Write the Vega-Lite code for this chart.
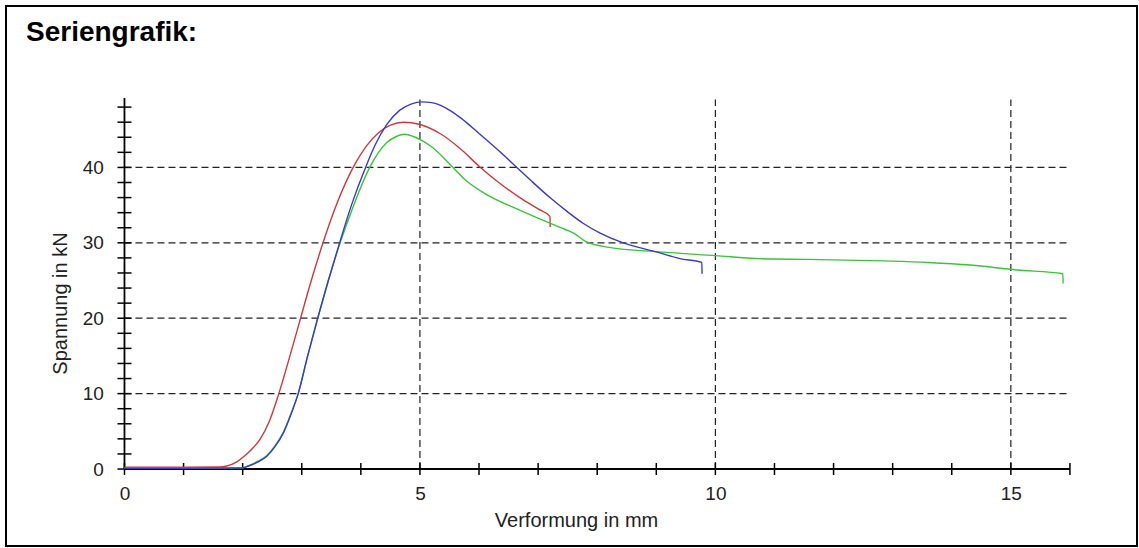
{
  "$schema": "https://vega.github.io/schema/vega-lite/v6.json",
  "width": 1131,
  "height": 540,
  "autosize": {"type": "none"},
  "padding": {"left": 6, "top": 6, "right": 2, "bottom": 2},
  "background": "white",
  "title": {"text": "Seriengrafik:", "anchor": "start", "frame": "group", "orient": "top", "baseline": "alphabetic", "offset": -34, "dx": 20, "dy": 29, "font": "Liberation Sans", "fontSize": 28, "fontWeight": "bold", "color": "#000"},
  "config": {"view": {"stroke": "#000", "strokeWidth": 2}, "font": "Liberation Sans"},
  "datasets": {
    "gitter": [
      {"x1": 0, "x2": 16, "y1": 10, "y2": 10},
      {"x1": 0, "x2": 16, "y1": 20, "y2": 20},
      {"x1": 0, "x2": 16, "y1": 30, "y2": 30},
      {"x1": 0, "x2": 16, "y1": 40, "y2": 40},
      {"x1": 5, "x2": 5, "y1": 0, "y2": 49},
      {"x1": 10, "x2": 10, "y1": 0, "y2": 49},
      {"x1": 15, "x2": 15, "y1": 0, "y2": 49}
    ],
    "achsen": [
      {"x1": 0, "x2": 16, "y1": 0, "y2": 0},
      {"x1": 0, "x2": 0, "y1": 0, "y2": 49.2}
    ],
    "xticks": [
      {"v": 0}, {"v": 1}, {"v": 2}, {"v": 3}, {"v": 4}, {"v": 5}, {"v": 6}, {"v": 7}, {"v": 8},
      {"v": 9}, {"v": 10}, {"v": 11}, {"v": 12}, {"v": 13}, {"v": 14}, {"v": 15}, {"v": 16}
    ],
    "yticks": [
      {"v": 0}, {"v": 2}, {"v": 4}, {"v": 6}, {"v": 8}, {"v": 10}, {"v": 12}, {"v": 14}, {"v": 16},
      {"v": 18}, {"v": 20}, {"v": 22}, {"v": 24}, {"v": 26}, {"v": 28}, {"v": 30}, {"v": 32},
      {"v": 34}, {"v": 36}, {"v": 38}, {"v": 40}, {"v": 42}, {"v": 44}, {"v": 46}, {"v": 48}
    ],
    "kurven": [
      {"Probe": "1", "Verformung": 0.0, "Spannung": 0.25},
      {"Probe": "1", "Verformung": 1.0, "Spannung": 0.25},
      {"Probe": "1", "Verformung": 1.6, "Spannung": 0.28},
      {"Probe": "1", "Verformung": 1.73, "Spannung": 0.4},
      {"Probe": "1", "Verformung": 1.9, "Spannung": 0.95},
      {"Probe": "1", "Verformung": 2.01, "Spannung": 1.6},
      {"Probe": "1", "Verformung": 2.15, "Spannung": 2.6},
      {"Probe": "1", "Verformung": 2.29, "Spannung": 3.9},
      {"Probe": "1", "Verformung": 2.45, "Spannung": 6.3},
      {"Probe": "1", "Verformung": 2.6, "Spannung": 9.7},
      {"Probe": "1", "Verformung": 2.8, "Spannung": 15.0},
      {"Probe": "1", "Verformung": 2.98, "Spannung": 20.0},
      {"Probe": "1", "Verformung": 3.15, "Spannung": 24.7},
      {"Probe": "1", "Verformung": 3.36, "Spannung": 30.0},
      {"Probe": "1", "Verformung": 3.6, "Spannung": 35.3},
      {"Probe": "1", "Verformung": 3.87, "Spannung": 40.0},
      {"Probe": "1", "Verformung": 4.1, "Spannung": 42.9},
      {"Probe": "1", "Verformung": 4.3, "Spannung": 44.6},
      {"Probe": "1", "Verformung": 4.5, "Spannung": 45.6},
      {"Probe": "1", "Verformung": 4.72, "Spannung": 46.0},
      {"Probe": "1", "Verformung": 5.0, "Spannung": 45.7},
      {"Probe": "1", "Verformung": 5.34, "Spannung": 44.5},
      {"Probe": "1", "Verformung": 5.68, "Spannung": 42.5},
      {"Probe": "1", "Verformung": 6.01, "Spannung": 40.1},
      {"Probe": "1", "Verformung": 6.35, "Spannung": 37.9},
      {"Probe": "1", "Verformung": 6.69, "Spannung": 36.0},
      {"Probe": "1", "Verformung": 7.0, "Spannung": 34.5},
      {"Probe": "1", "Verformung": 7.2, "Spannung": 33.5},
      {"Probe": "1", "Verformung": 7.205, "Spannung": 32.1},

      {"Probe": "3", "Verformung": 0.0, "Spannung": 0.1},
      {"Probe": "3", "Verformung": 1.0, "Spannung": 0.1},
      {"Probe": "3", "Verformung": 2.0, "Spannung": 0.15},
      {"Probe": "3", "Verformung": 2.1, "Spannung": 0.45},
      {"Probe": "3", "Verformung": 2.25, "Spannung": 1.0},
      {"Probe": "3", "Verformung": 2.41, "Spannung": 1.8},
      {"Probe": "3", "Verformung": 2.55, "Spannung": 3.1},
      {"Probe": "3", "Verformung": 2.69, "Spannung": 4.9},
      {"Probe": "3", "Verformung": 2.82, "Spannung": 7.4},
      {"Probe": "3", "Verformung": 2.94, "Spannung": 10.0},
      {"Probe": "3", "Verformung": 3.1, "Spannung": 15.0},
      {"Probe": "3", "Verformung": 3.27, "Spannung": 20.0},
      {"Probe": "3", "Verformung": 3.45, "Spannung": 25.0},
      {"Probe": "3", "Verformung": 3.65, "Spannung": 30.0},
      {"Probe": "3", "Verformung": 3.88, "Spannung": 35.0},
      {"Probe": "3", "Verformung": 4.15, "Spannung": 40.0},
      {"Probe": "3", "Verformung": 4.3, "Spannung": 42.0},
      {"Probe": "3", "Verformung": 4.44, "Spannung": 43.3},
      {"Probe": "3", "Verformung": 4.6, "Spannung": 44.1},
      {"Probe": "3", "Verformung": 4.74, "Spannung": 44.4},
      {"Probe": "3", "Verformung": 4.89, "Spannung": 44.1},
      {"Probe": "3", "Verformung": 5.03, "Spannung": 43.6},
      {"Probe": "3", "Verformung": 5.22, "Spannung": 42.6},
      {"Probe": "3", "Verformung": 5.51, "Spannung": 40.4},
      {"Probe": "3", "Verformung": 5.79, "Spannung": 38.2},
      {"Probe": "3", "Verformung": 6.13, "Spannung": 36.4},
      {"Probe": "3", "Verformung": 6.64, "Spannung": 34.5},
      {"Probe": "3", "Verformung": 7.2, "Spannung": 32.6},
      {"Probe": "3", "Verformung": 7.45, "Spannung": 31.8},
      {"Probe": "3", "Verformung": 7.6, "Spannung": 31.3},
      {"Probe": "3", "Verformung": 7.8, "Spannung": 30.2},
      {"Probe": "3", "Verformung": 8.2, "Spannung": 29.4},
      {"Probe": "3", "Verformung": 9.05, "Spannung": 28.8},
      {"Probe": "3", "Verformung": 10.0, "Spannung": 28.3},
      {"Probe": "3", "Verformung": 10.75, "Spannung": 27.9},
      {"Probe": "3", "Verformung": 11.57, "Spannung": 27.8},
      {"Probe": "3", "Verformung": 12.84, "Spannung": 27.6},
      {"Probe": "3", "Verformung": 13.6, "Spannung": 27.4},
      {"Probe": "3", "Verformung": 14.32, "Spannung": 27.05},
      {"Probe": "3", "Verformung": 15.1, "Spannung": 26.4},
      {"Probe": "3", "Verformung": 15.88, "Spannung": 25.9},
      {"Probe": "3", "Verformung": 15.885, "Spannung": 24.6},

      {"Probe": "2", "Verformung": 0.0, "Spannung": 0.1},
      {"Probe": "2", "Verformung": 1.0, "Spannung": 0.1},
      {"Probe": "2", "Verformung": 2.0, "Spannung": 0.15},
      {"Probe": "2", "Verformung": 2.1, "Spannung": 0.4},
      {"Probe": "2", "Verformung": 2.25, "Spannung": 0.9},
      {"Probe": "2", "Verformung": 2.41, "Spannung": 1.7},
      {"Probe": "2", "Verformung": 2.55, "Spannung": 3.0},
      {"Probe": "2", "Verformung": 2.69, "Spannung": 4.8},
      {"Probe": "2", "Verformung": 2.82, "Spannung": 7.3},
      {"Probe": "2", "Verformung": 2.94, "Spannung": 10.0},
      {"Probe": "2", "Verformung": 3.1, "Spannung": 15.0},
      {"Probe": "2", "Verformung": 3.27, "Spannung": 20.0},
      {"Probe": "2", "Verformung": 3.45, "Spannung": 25.0},
      {"Probe": "2", "Verformung": 3.64, "Spannung": 30.0},
      {"Probe": "2", "Verformung": 3.85, "Spannung": 35.2},
      {"Probe": "2", "Verformung": 4.08, "Spannung": 40.0},
      {"Probe": "2", "Verformung": 4.25, "Spannung": 43.1},
      {"Probe": "2", "Verformung": 4.44, "Spannung": 45.7},
      {"Probe": "2", "Verformung": 4.66, "Spannung": 47.6},
      {"Probe": "2", "Verformung": 4.85, "Spannung": 48.4},
      {"Probe": "2", "Verformung": 5.03, "Spannung": 48.7},
      {"Probe": "2", "Verformung": 5.2, "Spannung": 48.6},
      {"Probe": "2", "Verformung": 5.36, "Spannung": 48.2},
      {"Probe": "2", "Verformung": 5.52, "Spannung": 47.5},
      {"Probe": "2", "Verformung": 5.7, "Spannung": 46.5},
      {"Probe": "2", "Verformung": 6.0, "Spannung": 44.5},
      {"Probe": "2", "Verformung": 6.35, "Spannung": 42.1},
      {"Probe": "2", "Verformung": 6.64, "Spannung": 40.0},
      {"Probe": "2", "Verformung": 6.9, "Spannung": 38.1},
      {"Probe": "2", "Verformung": 7.2, "Spannung": 36.0},
      {"Probe": "2", "Verformung": 7.5, "Spannung": 34.1},
      {"Probe": "2", "Verformung": 7.76, "Spannung": 32.6},
      {"Probe": "2", "Verformung": 8.05, "Spannung": 31.3},
      {"Probe": "2", "Verformung": 8.44, "Spannung": 30.0},
      {"Probe": "2", "Verformung": 9.0, "Spannung": 28.8},
      {"Probe": "2", "Verformung": 9.4, "Spannung": 27.9},
      {"Probe": "2", "Verformung": 9.77, "Spannung": 27.4},
      {"Probe": "2", "Verformung": 9.775, "Spannung": 25.9}
    ]
  },
  "layer": [
    {
      "data": {"name": "gitter"},
      "mark": {"type": "rule", "strokeDash": [7, 4], "stroke": "#222", "strokeWidth": 1.2},
      "encoding": {
        "x": {
          "field": "x1", "type": "quantitative",
          "scale": {"domain": [-2.005, 17.135], "nice": false, "zero": false},
          "axis": {
            "values": [0, 5, 10, 15], "format": "d", "offset": -77, "domain": false, "ticks": false, "tickSize": 0, "grid": false,
            "labelPadding": 15, "labelFontSize": 19, "labelColor": "#222", "labelFont": "Liberation Sans",
            "labelFlush": false, "labelOverlap": false,
            "title": "Verformung in mm", "titleFont": "Liberation Sans", "titleFontSize": 20, "titleFontWeight": "normal",
            "titleColor": "#222", "titlePadding": 7, "titleX": 570
          }
        },
        "x2": {"field": "x2"},
        "y": {
          "field": "y1", "type": "quantitative",
          "scale": {"domain": [-10.21, 61.41], "nice": false, "zero": false},
          "axis": {
            "values": [0, 10, 20, 30, 40], "format": "d", "offset": -118.3, "domain": false, "ticks": false, "tickSize": 0, "grid": false,
            "labelPadding": 21, "labelFontSize": 19, "labelColor": "#222", "labelFont": "Liberation Sans",
            "labelFlush": false, "labelOverlap": false,
            "title": "Spannung in kN", "titleFont": "Liberation Sans", "titleFontSize": 20, "titleFontWeight": "normal",
            "titleColor": "#222", "titlePadding": 12, "titleY": 297
          }
        },
        "y2": {"field": "y2"}
      }
    },
    {
      "data": {"name": "achsen"},
      "mark": {"type": "rule", "stroke": "#000", "strokeWidth": 1.8},
      "encoding": {
        "x": {"field": "x1", "type": "quantitative"},
        "x2": {"field": "x2"},
        "y": {"field": "y1", "type": "quantitative"},
        "y2": {"field": "y2"}
      }
    },
    {
      "data": {"name": "xticks"},
      "mark": {"type": "tick", "orient": "vertical", "color": "#000", "size": 12, "thickness": 1.5, "opacity": 1},
      "encoding": {
        "x": {"field": "v", "type": "quantitative"},
        "y": {"datum": 0, "type": "quantitative"}
      }
    },
    {
      "data": {"name": "yticks"},
      "mark": {"type": "tick", "orient": "horizontal", "color": "#000", "size": 14, "thickness": 1.5, "opacity": 1},
      "encoding": {
        "y": {"field": "v", "type": "quantitative"},
        "x": {"datum": 0, "type": "quantitative"}
      }
    },
    {
      "data": {"name": "kurven"},
      "mark": {"type": "line", "interpolate": "monotone", "strokeWidth": 1.4},
      "encoding": {
        "x": {"field": "Verformung", "type": "quantitative"},
        "y": {"field": "Spannung", "type": "quantitative"},
        "color": {
          "field": "Probe", "type": "nominal",
          "scale": {"domain": ["1", "2", "3"], "range": ["#cc3a3a", "#3a3acc", "#3ac43a"]},
          "legend": null
        }
      }
    }
  ]
}
